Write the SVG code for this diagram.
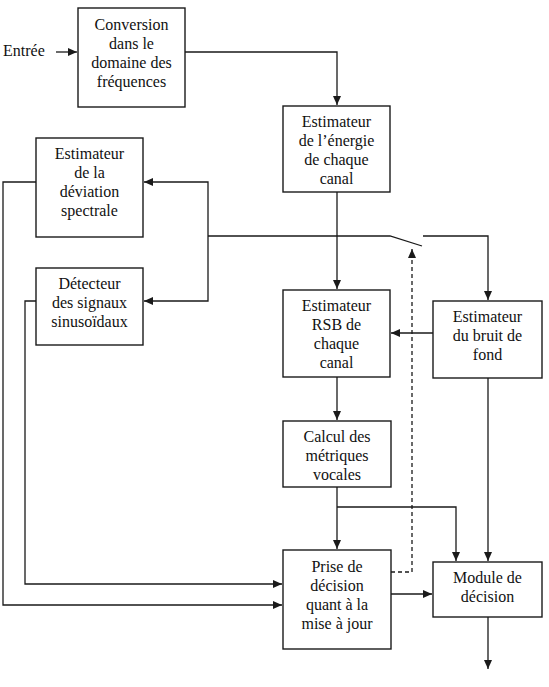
<svg xmlns="http://www.w3.org/2000/svg" width="549" height="687" viewBox="0 0 549 687">
<style>
.box{fill:#fff;stroke:#1a1a1a;stroke-width:1.4}
.t{font-family:"Liberation Serif","Times New Roman",serif;font-size:16px;fill:#111;text-anchor:middle}
.c{fill:none;stroke:#1a1a1a;stroke-width:1.3}
.d{stroke-dasharray:4 3}
</style>
<defs>
<marker id="ah" markerWidth="9" markerHeight="8" refX="9" refY="4" orient="auto" markerUnits="userSpaceOnUse">
<path d="M0,0 L9,4 L0,8 Z" fill="#1a1a1a"/>
</marker>
</defs>
<rect width="549" height="687" fill="#fff"/>
<g id="connectors">
<path class="c" d="M56,52 H77" marker-end="url(#ah)"/>
<path class="c" d="M185,52 H337 V105" marker-end="url(#ah)"/>
<path class="c" d="M337,192 V289" marker-end="url(#ah)"/>
<path class="c" d="M208,236 H390 L422,246"/>
<path class="c" d="M423,236 H488 V300" marker-end="url(#ah)"/>
<path class="c" d="M208,236 V182 H144" marker-end="url(#ah)"/>
<path class="c" d="M208,236 V301 H144" marker-end="url(#ah)"/>
<path class="c" d="M433,333 H391" marker-end="url(#ah)"/>
<path class="c" d="M337,377 V420" marker-end="url(#ah)"/>
<path class="c" d="M337,487 V549" marker-end="url(#ah)"/>
<path class="c" d="M337,507 H456 V561" marker-end="url(#ah)"/>
<path class="c" d="M488,378 V561" marker-end="url(#ah)"/>
<path class="c" d="M391,594 H432" marker-end="url(#ah)"/>
<path class="c" d="M488,617 V669" marker-end="url(#ah)"/>
<path class="c" d="M36,182 H3 V605 H282" marker-end="url(#ah)"/>
<path class="c" d="M36,301 H25 V584 H282" marker-end="url(#ah)"/>
<path class="c d" d="M391,572 H412 V256"/>
<path class="c" d="M412,258 V249" marker-end="url(#ah)"/>
<text class="t" x="3" y="56" style="text-anchor:start">Entrée</text>
</g>
<g id="conversion">
<rect class="box" x="78" y="8" width="107" height="99"/>
<text class="t" x="131.5" y="30">Conversion</text>
<text class="t" x="131.5" y="49">dans le</text>
<text class="t" x="131.5" y="68">domaine des</text>
<text class="t" x="131.5" y="87">fréquences</text>
</g>
<g id="energie">
<rect class="box" x="283" y="106" width="107" height="86"/>
<text class="t" x="336.5" y="127">Estimateur</text>
<text class="t" x="336.5" y="146">de l’énergie</text>
<text class="t" x="336.5" y="165">de chaque</text>
<text class="t" x="336.5" y="184">canal</text>
</g>
<g id="deviation">
<rect class="box" x="36" y="138" width="107" height="99"/>
<text class="t" x="89.5" y="159">Estimateur</text>
<text class="t" x="89.5" y="178">de la</text>
<text class="t" x="89.5" y="197">déviation</text>
<text class="t" x="89.5" y="216">spectrale</text>
</g>
<g id="detecteur">
<rect class="box" x="36" y="268" width="107" height="77"/>
<text class="t" x="89.5" y="289">Détecteur</text>
<text class="t" x="89.5" y="308">des signaux</text>
<text class="t" x="89.5" y="327">sinusoïdaux</text>
</g>
<g id="rsb">
<rect class="box" x="283" y="290" width="107" height="87"/>
<text class="t" x="336.5" y="311">Estimateur</text>
<text class="t" x="336.5" y="330">RSB de</text>
<text class="t" x="336.5" y="349">chaque</text>
<text class="t" x="336.5" y="368">canal</text>
</g>
<g id="bruit">
<rect class="box" x="433" y="301" width="109" height="77"/>
<text class="t" x="487.5" y="322">Estimateur</text>
<text class="t" x="487.5" y="341">du bruit de</text>
<text class="t" x="487.5" y="360">fond</text>
</g>
<g id="calcul">
<rect class="box" x="283" y="421" width="108" height="66"/>
<text class="t" x="337" y="442">Calcul des</text>
<text class="t" x="337" y="461">métriques</text>
<text class="t" x="337" y="480">vocales</text>
</g>
<g id="prise">
<rect class="box" x="283" y="550" width="108" height="99"/>
<text class="t" x="337" y="572">Prise de</text>
<text class="t" x="337" y="591">décision</text>
<text class="t" x="337" y="610">quant à la</text>
<text class="t" x="337" y="629">mise à jour</text>
</g>
<g id="module">
<rect class="box" x="433" y="562" width="109" height="55"/>
<text class="t" x="487.5" y="583">Module de</text>
<text class="t" x="487.5" y="602">décision</text>
</g>
</svg>
